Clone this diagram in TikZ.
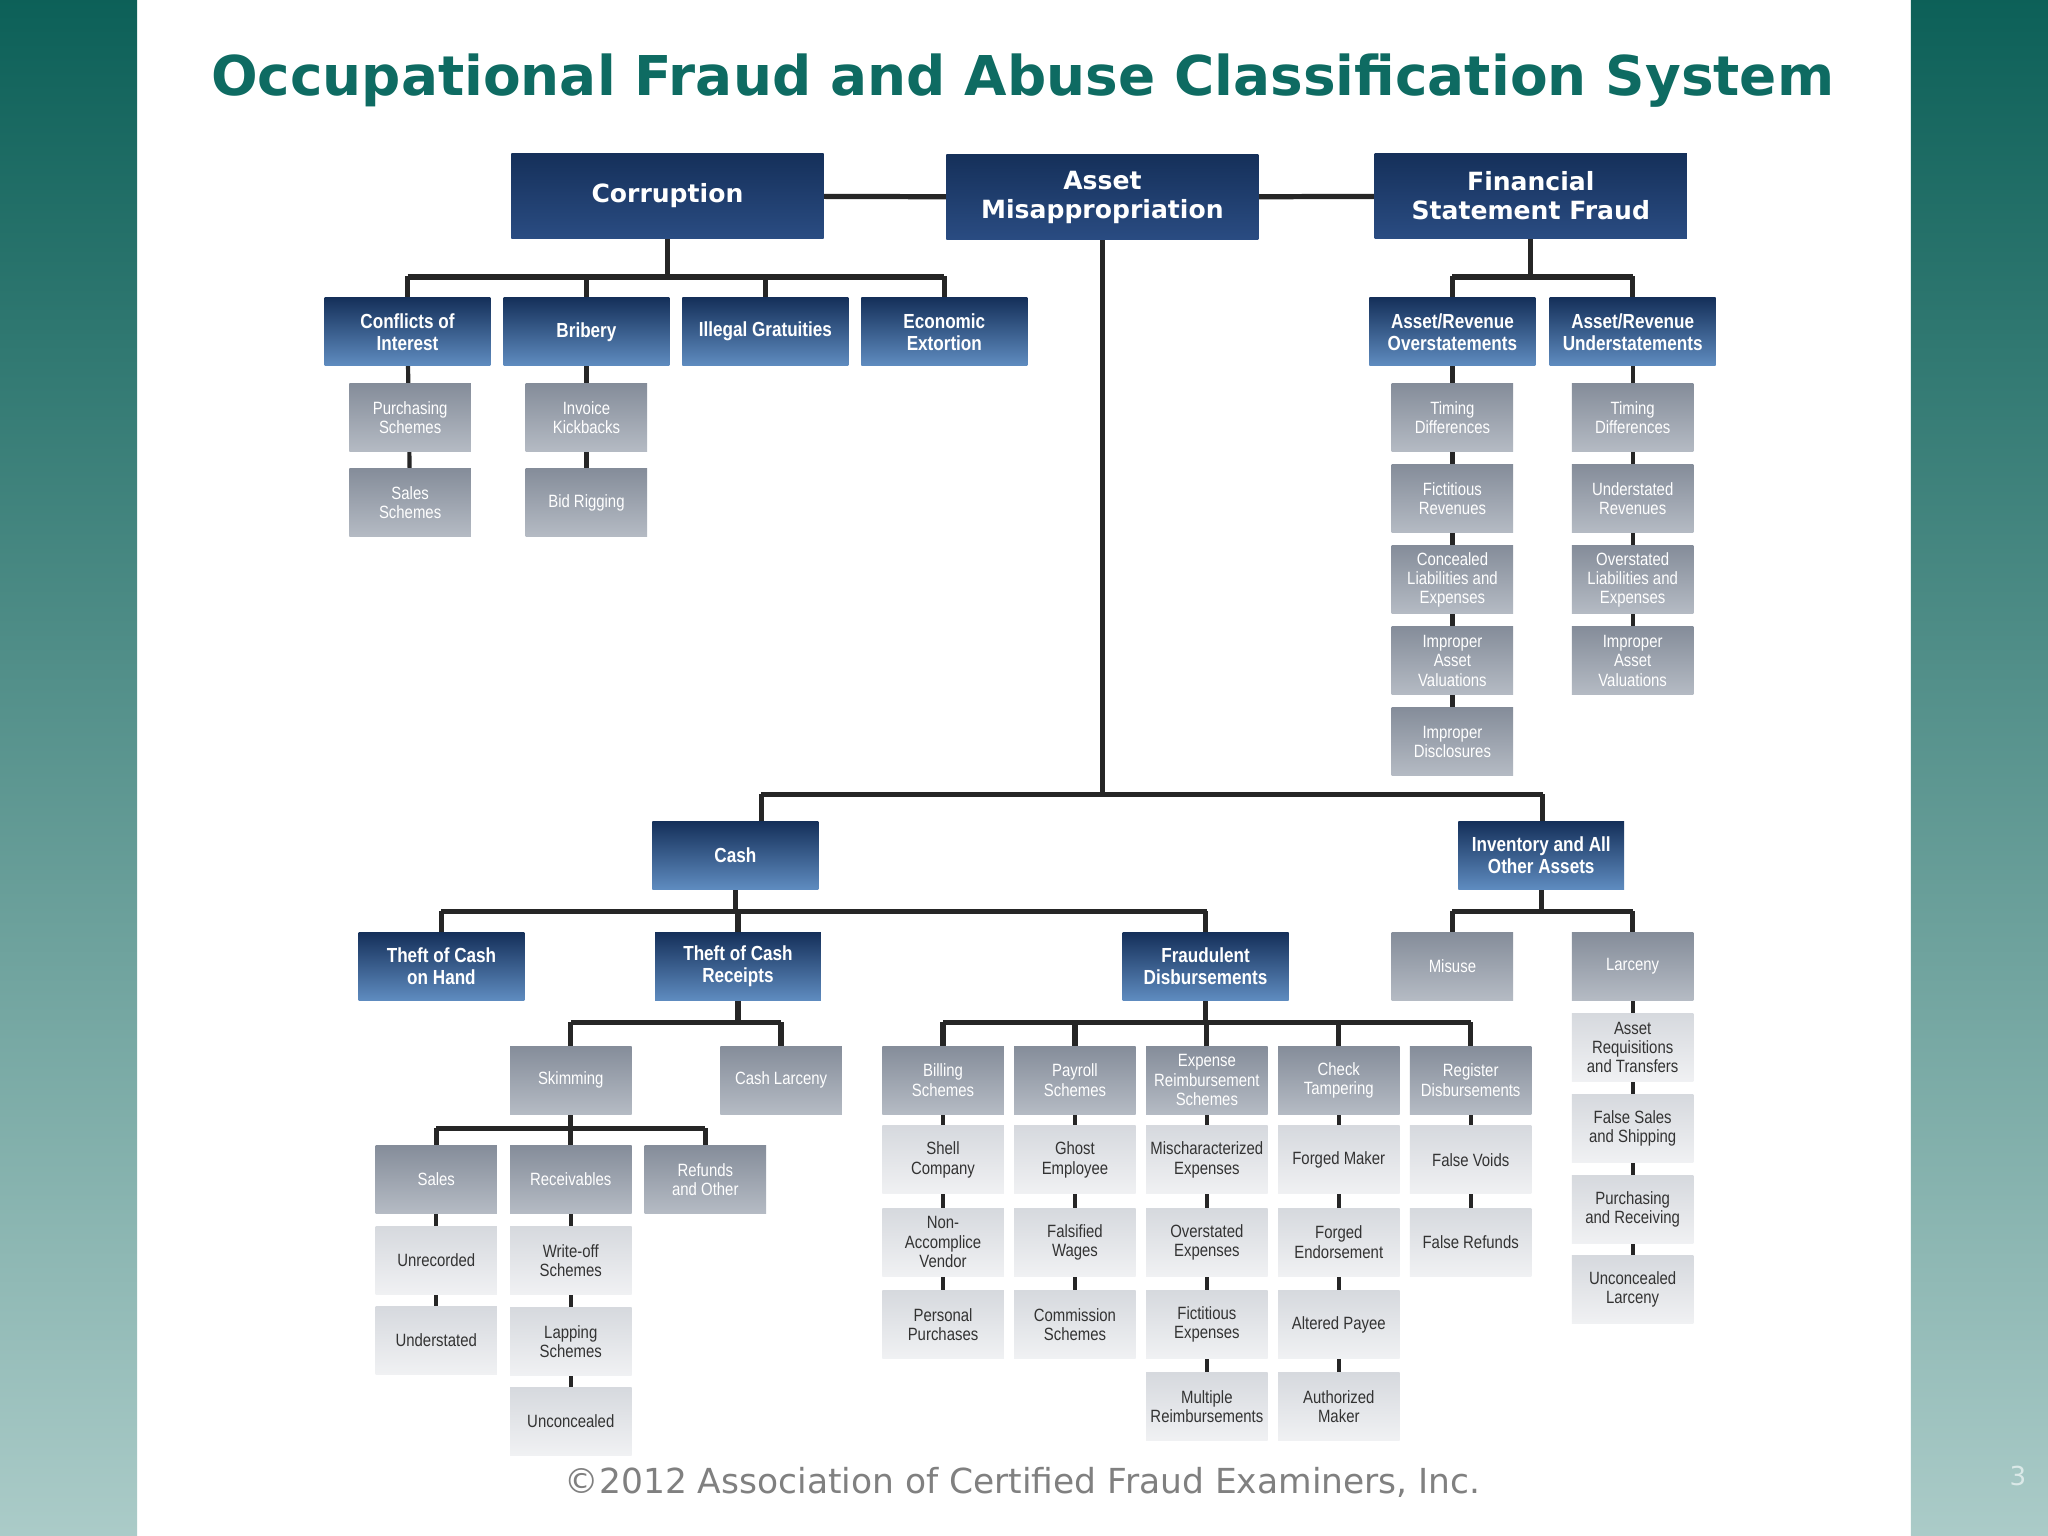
\documentclass[tikz,border=0pt]{standalone}
\usepackage{fontspec}
\setmainfont{Liberation Sans}
\newfontfamily\boxfont[FakeStretch=0.84]{Liberation Sans}
\newfontfamily\dv{DejaVu Sans}
\usetikzlibrary{backgrounds}
\pgfdeclarelayer{bottom}
\pgfsetlayers{bottom,background,main}
\definecolor{navyA}{HTML}{15305A}
\definecolor{navyB}{HTML}{2A4C82}
\definecolor{blueB}{HTML}{5F8CC0}
\definecolor{greyA}{HTML}{858D9A}
\definecolor{greyB}{HTML}{B5BBC4}
\definecolor{lightA}{HTML}{D6D9DE}
\definecolor{lightB}{HTML}{F0F1F3}
\definecolor{teal}{HTML}{0E6B62}
\tikzset{
 base/.style={minimum width=46.5pt,minimum height=26pt,inner sep=1pt,align=center,font=\boxfont\fontsize{6.8}{7.4}\selectfont},
 gbox/.style={base,top color=greyA,bottom color=greyB,text=white},
 lbox/.style={base,top color=lightA,bottom color=lightB,text=black!80},
 bbox/.style={base,minimum width=63.5pt,top color=navyA,bottom color=blueB,text=white,font=\boxfont\bfseries\fontsize{7.8}{8.4}\selectfont},
 tbox/.style={minimum width=119.5pt,minimum height=32.5pt,inner sep=1pt,align=center,top color=navyA,bottom color=navyB,text=white,font=\dv\bfseries\fontsize{9.6}{11}\selectfont},
 link/.style={line width=2pt,draw=black!85},
 slink/.style={line width=1.6pt,draw=black!85},
}
\begin{document}
\begin{tikzpicture}[x=0.5pt,y=-0.5pt]
\useasboundingbox (0,0) rectangle (1568,1176);
\begin{pgfonlayer}{bottom}
\fill[white] (0,0) rectangle (1568,1176);
\shade[top color=teal!90!black,bottom color=teal!35] (0,0) rectangle (105,1176);
\shade[top color=teal!90!black,bottom color=teal!35] (1463,0) rectangle (1568,1176);
\end{pgfonlayer}
\node[text=teal,font=\dv\bfseries\fontsize{21}{25}\selectfont] (title) at (783,62) {Occupational Fraud and Abuse Classification System};
\node[text=black!50,font=\dv\fontsize{13.2}{16}\selectfont] (foot) at (783,1135) {©2012 Association of Certified Fraud Examiners, Inc.};
\node[text=white!85!teal,font=\dv\fontsize{10}{12}\selectfont] (pg) at (1545,1130) {3};
% top
\node[tbox] (corr) at (511,150) {Corruption};
\node[tbox] (am) at (844,151) {Asset\\Misappropriation};
\node[tbox] (fsf) at (1172,150) {Financial\\Statement Fraud};
% corruption
\node[bbox] (coi) at (312,254) {Conflicts of\\Interest};
\node[bbox] (bri) at (449,254) {Bribery};
\node[bbox] (ig) at (586,254) {Illegal Gratuities};
\node[bbox] (ee) at (723,254) {Economic\\Extortion};
\node[gbox] (ps) at (314,320) {Purchasing\\Schemes};
\node[gbox] (ss) at (314,385) {Sales\\Schemes};
\node[gbox] (ik) at (449,320) {Invoice\\Kickbacks};
\node[gbox] (br) at (449,385) {Bid Rigging};
% fsf
\node[bbox] (aro) at (1112,254) {Asset/Revenue\\Overstatements};
\node[bbox] (aru) at (1250,254) {Asset/Revenue\\Understatements};
\node[gbox] (o1) at (1112,320) {Timing\\Differences};
\node[gbox] (o2) at (1112,382) {Fictitious\\Revenues};
\node[gbox] (o3) at (1112,444) {Concealed\\Liabilities and\\Expenses};
\node[gbox] (o4) at (1112,506) {Improper\\Asset\\Valuations};
\node[gbox] (o5) at (1112,568) {Improper\\Disclosures};
\node[gbox] (u1) at (1250,320) {Timing\\Differences};
\node[gbox] (u2) at (1250,382) {Understated\\Revenues};
\node[gbox] (u3) at (1250,444) {Overstated\\Liabilities and\\Expenses};
\node[gbox] (u4) at (1250,506) {Improper\\Asset\\Valuations};
% asset misappropriation
\node[bbox] (cash) at (563,655) {Cash};
\node[bbox] (inv) at (1180,655) {Inventory and All\\Other Assets};
\node[bbox] (tch) at (338,740) {Theft of Cash\\on Hand};
\node[bbox] (tcr) at (565,740) {Theft of Cash\\Receipts};
\node[bbox] (fd) at (923,740) {Fraudulent\\Disbursements};
\node[gbox] (mis) at (1112,740) {Misuse};
\node[gbox] (lar) at (1250,740) {Larceny};
\node[gbox] (skim) at (437,827) {Skimming};
\node[gbox] (cl) at (598,827) {Cash Larceny};
\node[gbox] (sal) at (334,903) {Sales};
\node[gbox] (rec) at (437,903) {Receivables};
\node[gbox] (ref) at (540,903) {Refunds\\and Other};
\node[lbox] (unr) at (334,965) {Unrecorded};
\node[lbox] (und) at (334,1026) {Understated};
\node[lbox] (wo) at (437,965) {Write-off\\Schemes};
\node[lbox] (lap) at (437,1027) {Lapping\\Schemes};
\node[lbox] (unc) at (437,1088) {Unconcealed};
\node[gbox] (bil) at (722,827) {Billing\\Schemes};
\node[gbox] (pay) at (823,827) {Payroll\\Schemes};
\node[gbox] (exp) at (924,827) {Expense\\Reimbursement\\Schemes};
\node[gbox] (chk) at (1025,827) {Check\\Tampering};
\node[gbox] (reg) at (1126,827) {Register\\Disbursements};
\node[lbox] (b1) at (722,888) {Shell\\Company};
\node[lbox] (b2) at (722,951) {Non-\\Accomplice\\Vendor};
\node[lbox] (b3) at (722,1014) {Personal\\Purchases};
\node[lbox] (p1) at (823,888) {Ghost\\Employee};
\node[lbox] (p2) at (823,951) {Falsified\\Wages};
\node[lbox] (p3) at (823,1014) {Commission\\Schemes};
\node[lbox] (e1) at (924,888) {Mischaracterized\\Expenses};
\node[lbox] (e2) at (924,951) {Overstated\\Expenses};
\node[lbox] (e3) at (924,1014) {Fictitious\\Expenses};
\node[lbox] (e4) at (924,1077) {Multiple\\Reimbursements};
\node[lbox] (c1) at (1025,888) {Forged Maker};
\node[lbox] (c2) at (1025,951) {Forged\\Endorsement};
\node[lbox] (c3) at (1025,1014) {Altered Payee};
\node[lbox] (c4) at (1025,1077) {Authorized\\Maker};
\node[lbox] (r1) at (1126,888) {False Voids};
\node[lbox] (r2) at (1126,951) {False Refunds};
\node[lbox] (l1) at (1250,802) {Asset\\Requisitions\\and Transfers};
\node[lbox] (l2) at (1250,864) {False Sales\\and Shipping};
\node[lbox] (l3) at (1250,926) {Purchasing\\and Receiving};
\node[lbox] (l4) at (1250,987) {Unconcealed\\Larceny};
\begin{scope}[on background layer]
\draw[link] (corr) -- (am) -- (fsf);
% corruption bus
\draw[link] (511,183) -- (511,212);
\draw[link] (312,212) -- (723,212);
\foreach \n in {coi,bri,ig,ee}{\draw[link] (\n.north) -- ++(0,-16);}
\draw[slink] (coi.center) -- (ss.center);
\draw[slink] (bri.center) -- (br.center);
% fsf bus
\draw[link] (fsf.south) -- (1172,212);
\draw[link] (1112,212) -- (1250,212);
\foreach \n in {aro,aru}{\draw[link] (\n.north) -- ++(0,-16);}
\draw[slink] (aro.center) -- (o5.center);
\draw[slink] (aru.center) -- (u4.center);
% asset misappropriation
\draw[link] (am.south) -- (844,608);
\draw[link] (583,608) -- (1181,608);
\draw[link] (583,608) -- (583,629);
\draw[link] (1181,608) -- (1181,629);
\draw[link] (cash.south) -- (563,698);
\draw[link] (338,698) -- (924,698);
\foreach \n in {tch,tcr,fd}{\draw[link] (\n.north) -- ++(0,-16);}
\draw[link] (inv.south) -- (1180,698);
\draw[link] (1112,698) -- (1250,698);
\foreach \n in {mis,lar}{\draw[link] (\n.north) -- ++(0,-16);}
\draw[link] (tcr.south) -- (565,783);
\draw[link] (437,783) -- (598,783);
\foreach \n in {skim,cl}{\draw[link] (\n.north) -- ++(0,-18);}
\draw[link] (skim.south) -- (437,864);
\draw[link] (334,864) -- (540,864);
\foreach \n in {sal,rec,ref}{\draw[link] (\n.north) -- ++(0,-13);}
\draw[slink] (sal.center) -- (und.center);
\draw[slink] (rec.center) -- (unc.center);
\draw[link] (fd.south) -- (923,783);
\draw[link] (722,783) -- (1126,783);
\foreach \n in {bil,pay,exp,chk,reg}{\draw[link] (\n.north) -- ++(0,-18);}
\draw[slink] (bil.center) -- (b3.center);
\draw[slink] (pay.center) -- (p3.center);
\draw[slink] (exp.center) -- (e4.center);
\draw[slink] (chk.center) -- (c4.center);
\draw[slink] (reg.center) -- (r2.center);
\draw[slink] (lar.center) -- (l4.center);
\end{scope}
\end{tikzpicture}
\end{document}
